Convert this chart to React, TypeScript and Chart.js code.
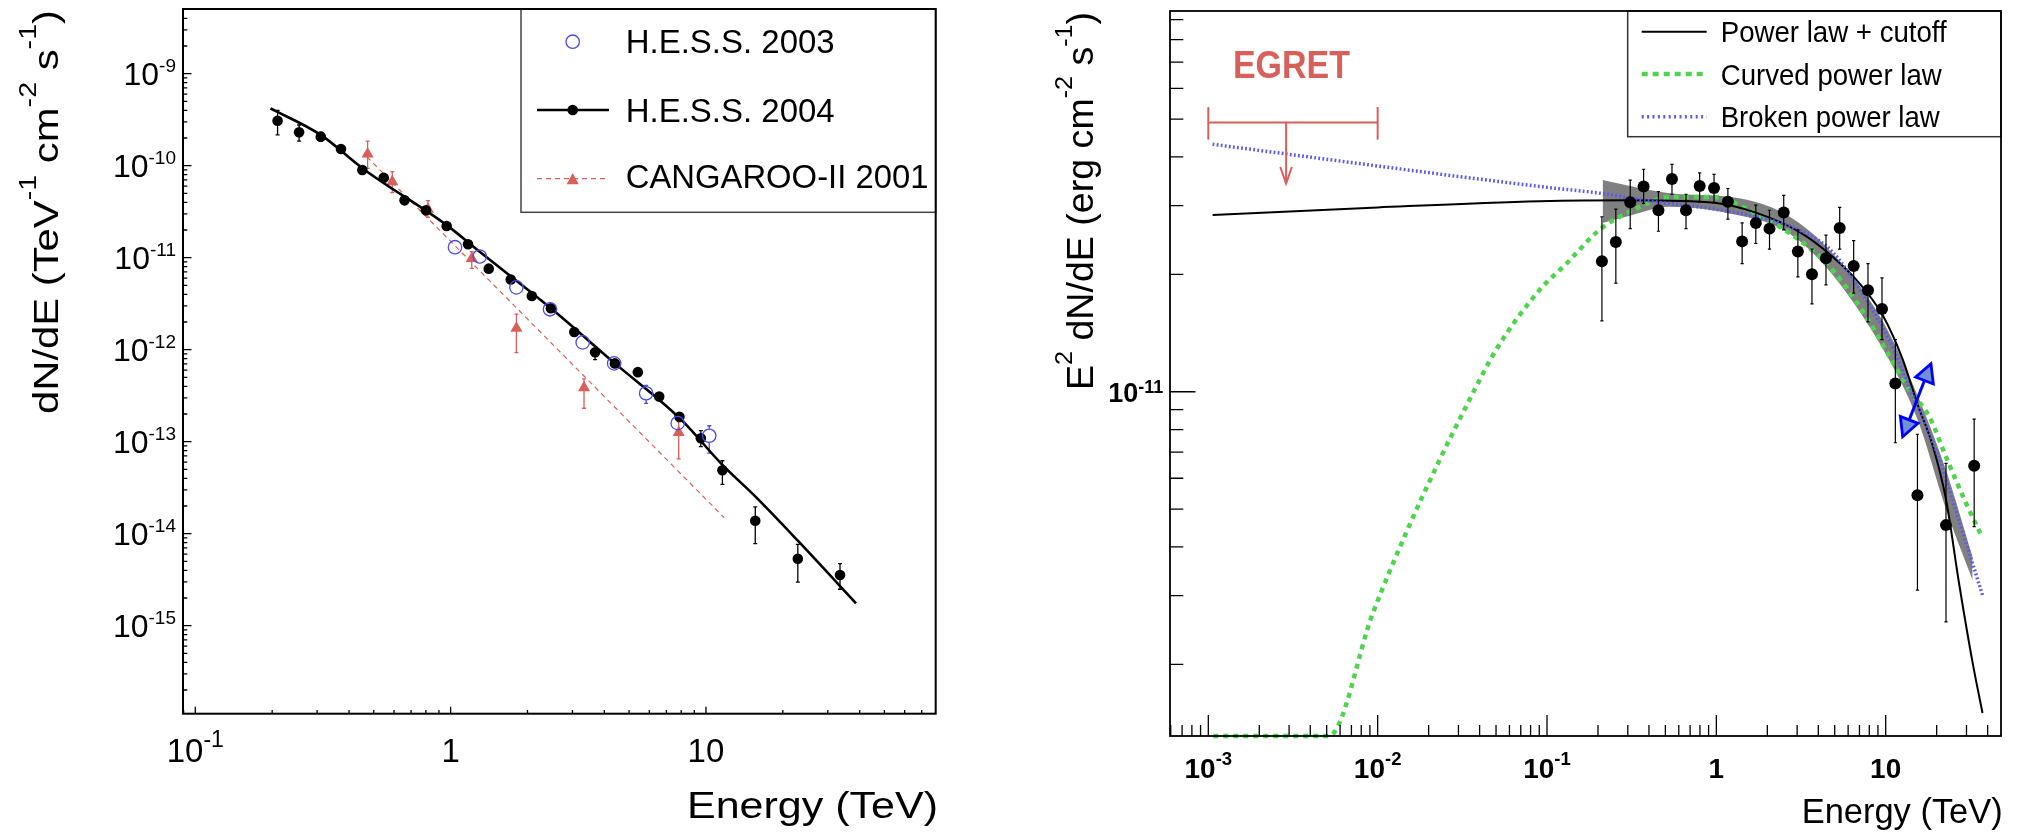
import React, { useEffect, useRef } from "react";
import { Chart, registerables } from "chart.js";
Chart.register(...registerables);

const FONT = '"Liberation Sans", Arial, Helvetica, sans-serif';
const RED = "#d95f5b";
const BLUE = "#4a4ae6";
const GREEN = "#50d450";
const DOTBLUE = "#5a5af0";

// ---------------- Left panel data ----------------
const hess04E = [0.21, 0.255, 0.31, 0.372, 0.451, 0.547, 0.66, 0.8, 0.965, 1.17, 1.41, 1.72, 2.08, 2.47, 3.05, 3.68, 4.4, 5.41, 6.56, 7.87, 9.55, 11.6, 15.6, 22.9, 33.5];
const hess04F = [3.08e-10, 2.31e-10, 2.07e-10, 1.52e-10, 8.98e-11, 7.41e-11, 4.2e-11, 3.27e-11, 2.21e-11, 1.4e-11, 7.6e-12, 5.8e-12, 3.84e-12, 2.82e-12, 1.56e-12, 9.37e-13, 7.1e-13, 5.7e-13, 3.09e-13, 1.87e-13, 1.09e-13, 4.89e-14, 1.38e-14, 5.35e-15, 3.56e-15];
const hess04Lo = [2.16e-10, 1.85e-10, 1.85e-10, null, null, null, null, null, null, null, null, null, null, null, null, 7.8e-13, null, null, null, 1.65e-13, 8.83e-14, 3.44e-14, 7.78e-15, 2.98e-15, 2.49e-15];
const hess04Hi = [4.0e-10, 2.77e-10, 2.3e-10, null, null, null, null, null, null, null, null, null, null, null, null, 1.0e-12, null, null, null, 2.05e-13, 1.32e-13, 6.21e-14, 1.96e-14, 7.67e-15, 4.72e-15];

const hess03E = [1.04, 1.3, 1.81, 2.45, 3.29, 4.37, 5.83, 7.75, 10.3];
const hess03F = [1.3e-11, 1.03e-11, 4.76e-12, 2.75e-12, 1.2e-12, 7.1e-13, 3.36e-13, 1.59e-13, 1.16e-13];
const hess03Lo = [null, null, null, null, null, null, 2.61e-13, 1.29e-13, 7.5e-14];
const hess03Hi = [null, null, null, null, null, null, 4.1e-13, 1.95e-13, 1.49e-13];

const canE = [0.473, 0.591, 0.815, 1.21, 1.81, 3.33, 7.82];
const canF = [1.34e-10, 6.7e-11, 3.36e-11, 9.8e-12, 1.71e-12, 3.87e-13, 1.26e-13];
const canLo = [9.37e-11, 5.09e-11, 2.75e-11, 7.67e-12, 9.27e-13, 2.31e-13, 6.49e-14];
const canHi = [1.85e-10, 8.61e-11, 4.17e-11, 1.16e-11, 2.43e-12, 4.81e-13, 1.69e-13];

const fitE = [0.197, 0.31, 0.451, 0.965, 1.3, 2.47, 4.4, 7.91, 11.6, 15.7, 22.9, 38.7];
const fitF = [4.2e-10, 2.16e-10, 9.4e-11, 2.26e-11, 1.16e-11, 2.82e-12, 7.1e-13, 1.79e-13, 5.6e-14, 2.5e-14, 8.4e-15, 1.75e-15];

const canFitE = [0.47, 11.8];
const canFitF = [1.25e-10, 1.49e-14];

const leftXTickExps = [-1, 0, 1];
const leftYTickExps = [-9, -10, -11, -12, -13, -14, -15];
const leftLegend = ["H.E.S.S. 2003", "H.E.S.S. 2004", "CANGAROO-II 2001"];

// ---------------- Right panel data ----------------
const rE = [0.211, 0.255, 0.31, 0.372, 0.455, 0.547, 0.662, 0.797, 0.969, 1.17, 1.42, 1.71, 2.06, 2.5, 3.03, 3.67, 4.44, 5.35, 6.47, 7.86, 9.51, 11.4, 15.4, 22.7, 33.3];
const rF = [2.16e-11, 2.42e-11, 3.06e-11, 3.36e-11, 2.92e-11, 3.51e-11, 2.92e-11, 3.37e-11, 3.33e-11, 3.07e-11, 2.43e-11, 2.71e-11, 2.62e-11, 2.88e-11, 2.29e-11, 2.0e-11, 2.2e-11, 2.63e-11, 2.1e-11, 1.82e-11, 1.63e-11, 1.05e-11, 5.43e-12, 4.55e-12, 6.46e-12];
const rLo = [1.52e-11, 1.9e-11, 2.62e-11, 3.04e-11, 2.58e-11, 3.21e-11, 2.62e-11, 3.07e-11, 3.06e-11, 2.77e-11, 2.13e-11, 2.4e-11, 2.32e-11, 2.6e-11, 1.97e-11, 1.68e-11, 1.88e-11, 2.32e-11, 1.79e-11, 1.51e-11, 1.36e-11, 7.4e-12, 3.1e-12, 2.57e-12, 4.51e-12];
const rHi = [2.81e-11, 2.94e-11, 3.49e-11, 3.72e-11, 3.26e-11, 3.83e-11, 3.21e-11, 3.64e-11, 3.61e-11, 3.32e-11, 2.71e-11, 3.01e-11, 2.92e-11, 3.19e-11, 2.6e-11, 2.32e-11, 2.52e-11, 2.97e-11, 2.44e-11, 2.13e-11, 1.96e-11, 1.36e-11, 7.78e-12, 6.55e-12, 8.51e-12];

const plcE = [1.06e-3, 0.01, 0.09, 0.31, 1.0, 1.71, 3.09, 4.86, 6.98, 9.6, 12.6, 15.4, 18.9, 22.7, 27.2, 32.6, 37.3];
const plcF = [2.84e-11, 2.97e-11, 3.08e-11, 3.1e-11, 3.05e-11, 2.88e-11, 2.57e-11, 2.22e-11, 1.9e-11, 1.57e-11, 1.21e-11, 9.3e-12, 7.3e-12, 5.3e-12, 3.2e-12, 2.02e-12, 1.5e-12];

const cplE = [1.07e-3, 5.15e-3, 9.35e-3, 1.47e-2, 2.32e-2, 3.48e-2, 0.05, 0.09, 0.13, 0.204, 0.32, 0.55, 0.95, 1.71, 3.09, 4.86, 7.66, 10.0, 13.8, 18.1, 22.7, 29.8, 36.5];
const cplF = [1.31e-12, 1.31e-12, 2.7e-12, 4.34e-12, 6.68e-12, 9.52e-12, 1.28e-11, 1.82e-11, 2.13e-11, 2.6e-11, 2.92e-11, 3.16e-11, 3.16e-11, 2.86e-11, 2.45e-11, 2.05e-11, 1.56e-11, 1.28e-11, 1.01e-11, 8.63e-12, 6.81e-12, 5.18e-12, 4.3e-12];

const bplE = [1.06e-3, 0.09, 0.204, 0.46, 0.79, 1.71, 3.09, 4.86, 7.66, 10.5, 14.0, 19.8, 29.8, 37.3];
const bplF = [4.31e-11, 3.36e-11, 3.23e-11, 3.06e-11, 2.98e-11, 2.81e-11, 2.6e-11, 2.28e-11, 1.72e-11, 1.36e-11, 1.01e-11, 7.08e-12, 4.1e-12, 3.01e-12];

const bandE = [0.213, 0.3, 0.53, 1.28, 2.5, 4.44, 9.5, 15.4, 22.7, 32.6];
const bandLo = [2.71e-11, 2.82e-11, 2.98e-11, 2.85e-11, 2.6e-11, 2.09e-11, 1.3e-11, 8.5e-12, 5.0e-12, 3.29e-12];
const bandHi = [3.49e-11, 3.38e-11, 3.23e-11, 3.15e-11, 2.87e-11, 2.36e-11, 1.53e-11, 9.8e-12, 6.3e-12, 3.77e-12];

const egretE = [1e-3, 1e-2];
const egretF = 4.9e-11;
const egretArrowE = 2.88e-3;
const egretArrowTo = 3.42e-11;

const slopeArrowE = [12.6, 18.5];
const slopeArrowF = [7.67e-12, 1.18e-11];

const rightXTickExps = [-3, -2, -1, 0, 1];
const rightYTickExps = [-11];
const rightLegend = ["Power law + cutoff", "Curved power law", "Broken power law"];

// ---------------- helpers ----------------
type Seg = { t: string; sup?: boolean };
type RichOpt = { size: number; supSize: number; raise: number; bold?: boolean; align?: "left" | "center" | "right"; width?: number; color?: string };

function drawRich(ctx: CanvasRenderingContext2D, segs: Seg[], x: number, y: number, o: RichOpt) {
  const b = o.bold ? "bold " : "";
  const fontOf = (s: Seg) => `${b}${s.sup ? o.supSize : o.size}px ${FONT}`;
  const widths = segs.map((s) => {
    ctx.font = fontOf(s);
    return ctx.measureText(s.t).width;
  });
  const total = widths.reduce((a, c) => a + c, 0);
  const sx = o.width ? o.width / total : 1;
  ctx.save();
  ctx.translate(x, y);
  ctx.scale(sx, 1);
  let cx = o.align === "right" ? -total : o.align === "center" ? -total / 2 : 0;
  ctx.fillStyle = o.color || "#000";
  ctx.textBaseline = "alphabetic";
  ctx.textAlign = "left";
  segs.forEach((s, i) => {
    ctx.font = fontOf(s);
    ctx.fillText(s.t, cx, s.sup ? -o.raise : 0);
    cx += widths[i];
  });
  ctx.restore();
}

function powSegs(e: number): Seg[] {
  if (e === 0) return [{ t: "1" }];
  if (e === 1) return [{ t: "10" }];
  return [{ t: "10" }, { t: String(e), sup: true }];
}

function logTicks(ctx: CanvasRenderingContext2D, chart: any, axis: "x" | "y", major: number, minor: number, lw: number) {
  const a = chart.chartArea;
  const sc = chart.scales[axis];
  const lo = Math.floor(Math.log10(sc.min));
  const hi = Math.ceil(Math.log10(sc.max));
  ctx.save();
  ctx.strokeStyle = "#000";
  ctx.lineWidth = lw;
  ctx.beginPath();
  for (let d = lo; d <= hi; d++) {
    for (let m = 1; m <= 9; m++) {
      const v = m * Math.pow(10, d);
      if (v < sc.min || v > sc.max) continue;
      const p = sc.getPixelForValue(v);
      const len = m === 1 ? major : minor;
      if (axis === "x") {
        ctx.moveTo(p, a.bottom);
        ctx.lineTo(p, a.bottom - len);
      } else {
        ctx.moveTo(a.left, p);
        ctx.lineTo(a.left + len, p);
      }
    }
  }
  ctx.stroke();
  ctx.restore();
}

function errBars(ctx: CanvasRenderingContext2D, chart: any, E: number[], F: number[], lo: (number | null)[], hi: (number | null)[], color: string, cap: number, lw: number, gap: number) {
  const xs = chart.scales.x;
  const ys = chart.scales.y;
  ctx.save();
  ctx.strokeStyle = color;
  ctx.lineWidth = lw;
  ctx.beginPath();
  E.forEach((e, i) => {
    const px = xs.getPixelForValue(e);
    const pc = ys.getPixelForValue(F[i]);
    const l = lo[i];
    const h = hi[i];
    if (l != null) {
      const p = ys.getPixelForValue(l);
      if (p > pc + gap) {
        ctx.moveTo(px, pc + gap);
        ctx.lineTo(px, p);
      }
      ctx.moveTo(px - cap, p);
      ctx.lineTo(px + cap, p);
    }
    if (h != null) {
      const p = ys.getPixelForValue(h);
      if (p < pc - gap) {
        ctx.moveTo(px, pc - gap);
        ctx.lineTo(px, p);
      }
      ctx.moveTo(px - cap, p);
      ctx.lineTo(px + cap, p);
    }
  });
  ctx.stroke();
  ctx.restore();
}

const pts = (xs: number[], ys: number[]) => xs.map((x, i) => ({ x, y: ys[i] }));

function line(ctx: CanvasRenderingContext2D, x1: number, y1: number, x2: number, y2: number, color: string, lw: number, dash: number[] = []) {
  ctx.save();
  ctx.strokeStyle = color;
  ctx.lineWidth = lw;
  ctx.setLineDash(dash);
  ctx.beginPath();
  ctx.moveTo(x1, y1);
  ctx.lineTo(x2, y2);
  ctx.stroke();
  ctx.restore();
}

// ---------------- Left chart ----------------
const leftDecor = {
  id: "leftDecor",
  beforeDatasetsDraw(chart: any) {
    const ctx = chart.ctx;
    errBars(ctx, chart, canE, canF, canLo, canHi, RED, 2, 1.3, 0);
    errBars(ctx, chart, hess04E, hess04F, hess04Lo, hess04Hi, "#000", 2, 1.3, 0);
    errBars(ctx, chart, hess03E, hess03F, hess03Lo, hess03Hi, BLUE, 2, 1.3, 6.7);
  },
  afterDatasetsDraw(chart: any) {
    const ctx: CanvasRenderingContext2D = chart.ctx;
    const a = chart.chartArea;
    // legend
    ctx.save();
    ctx.fillStyle = "#fff";
    ctx.fillRect(521, a.top, a.right - 521, 212.3 - a.top);
    ctx.strokeStyle = "#444";
    ctx.lineWidth = 1.5;
    ctx.strokeRect(521, a.top, a.right - 521, 212.3 - a.top);
    ctx.restore();
    ctx.save();
    ctx.strokeStyle = BLUE;
    ctx.lineWidth = 1.3;
    ctx.beginPath();
    ctx.arc(572.7, 41.7, 6.7, 0, Math.PI * 2);
    ctx.stroke();
    ctx.restore();
    line(ctx, 537, 110, 609, 110, "#000", 2.6);
    ctx.save();
    ctx.fillStyle = "#000";
    ctx.beginPath();
    ctx.arc(572.7, 110, 5.3, 0, Math.PI * 2);
    ctx.fill();
    ctx.restore();
    line(ctx, 537, 178.7, 609, 178.7, RED, 1.2, [5, 4]);
    ctx.save();
    ctx.fillStyle = RED;
    ctx.beginPath();
    ctx.moveTo(572.7, 173);
    ctx.lineTo(578.7, 184.3);
    ctx.lineTo(566.7, 184.3);
    ctx.closePath();
    ctx.fill();
    ctx.restore();
    const lgW = [209, 209, 302.7];
    const lgY = [53.3, 121.7, 188.3];
    leftLegend.forEach((t, i) => drawRich(ctx, [{ t }], 625.7, lgY[i], { size: 34, supSize: 20, raise: 0, width: lgW[i] }));

    // frame
    ctx.save();
    ctx.strokeStyle = "#000";
    ctx.lineWidth = 2;
    ctx.strokeRect(a.left, a.top, a.right - a.left, a.bottom - a.top);
    ctx.restore();
    logTicks(ctx, chart, "x", 7, 3.7, 1.3);
    logTicks(ctx, chart, "y", 8.5, 4.3, 1.3);

    const xs = chart.scales.x;
    const ys = chart.scales.y;
    leftXTickExps.forEach((e) => {
      drawRich(ctx, powSegs(e), xs.getPixelForValue(Math.pow(10, e)), 761.7, { size: 33, supSize: 23, raise: 15, align: "center" });
    });
    leftYTickExps.forEach((e) => {
      drawRich(ctx, powSegs(e), 176, ys.getPixelForValue(Math.pow(10, e)) + 11.7, { size: 32, supSize: 19, raise: 13.3, align: "right" });
    });

    drawRich(ctx, [{ t: "Energy (TeV)" }], 938, 818.3, { size: 37, supSize: 22, raise: 0, align: "right", width: 251 });
    ctx.save();
    ctx.translate(58, 10);
    ctx.rotate(-Math.PI / 2);
    drawRich(
      ctx,
      [{ t: "dN/dE (TeV" }, { t: "-1", sup: true }, { t: " cm" }, { t: "-2", sup: true }, { t: " s" }, { t: "-1", sup: true }, { t: ")" }],
      0,
      0,
      { size: 35, supSize: 24, raise: 22, align: "right", width: 404 }
    );
    ctx.restore();
  },
};

function leftConfig(): any {
  return {
    type: "scatter",
    data: {
      datasets: [
        { data: pts(canFitE, canFitF), showLine: true, borderColor: RED, borderWidth: 1.2, borderDash: [5, 4], pointRadius: 0, order: 5 },
        { data: pts(canE, canF), pointStyle: "triangle", pointRadius: 7, backgroundColor: RED, borderColor: RED, borderWidth: 0, order: 4 },
        { data: pts(fitE, fitF), showLine: true, borderColor: "#000", borderWidth: 2.6, pointRadius: 0, cubicInterpolationMode: "monotone", order: 3 },
        { data: pts(hess04E, hess04F), pointStyle: "circle", pointRadius: 5.3, backgroundColor: "#000", borderColor: "#000", borderWidth: 0, order: 2 },
        { data: pts(hess03E, hess03F), pointStyle: "circle", pointRadius: 6.7, backgroundColor: "rgba(0,0,0,0)", borderColor: BLUE, borderWidth: 1.3, order: 1 },
      ],
    },
    options: {
      responsive: false,
      animation: false,
      devicePixelRatio: 1,
      events: [],
      layout: { padding: { left: 183, top: 9, right: 64.3, bottom: 120.3 } },
      plugins: { legend: { display: false }, tooltip: { enabled: false } },
      scales: {
        x: { type: "logarithmic", display: false, min: 0.0895, max: 79.4 },
        y: { type: "logarithmic", display: false, min: 1.105e-16, max: 5.05e-9 },
      },
    },
    plugins: [leftDecor],
  };
}

// ---------------- Right chart ----------------
function arrowHead(ctx: CanvasRenderingContext2D, tx: number, ty: number, fx: number, fy: number, len: number, hw: number) {
  const dx = tx - fx;
  const dy = ty - fy;
  const d = Math.hypot(dx, dy);
  const ux = dx / d;
  const uy = dy / d;
  const bx = tx - ux * len;
  const by = ty - uy * len;
  ctx.beginPath();
  ctx.moveTo(tx, ty);
  ctx.lineTo(bx - uy * hw, by + ux * hw);
  ctx.lineTo(bx + uy * hw, by - ux * hw);
  ctx.closePath();
  ctx.fill();
  ctx.stroke();
}

const rightDecor = {
  id: "rightDecor",
  afterDatasetsDraw(chart: any) {
    const ctx: CanvasRenderingContext2D = chart.ctx;
    const a = chart.chartArea;
    const xs = chart.scales.x;
    const ys = chart.scales.y;
    errBars(ctx, chart, rE, rF, rLo, rHi, "#000", 1.6, 1.2, 0);

    // EGRET upper limit
    const ex1 = xs.getPixelForValue(egretE[0]);
    const ex2 = xs.getPixelForValue(egretE[1]);
    const ey = ys.getPixelForValue(egretF);
    line(ctx, ex1, ey, ex2, ey, RED, 2);
    line(ctx, ex1, ey - 15.5, ex1, ey + 17, RED, 2);
    line(ctx, ex2, ey - 15.5, ex2, ey + 17, RED, 2);
    const ax = xs.getPixelForValue(egretArrowE);
    const ay = ys.getPixelForValue(egretArrowTo);
    line(ctx, ax, ey, ax, ay, RED, 2);
    ctx.save();
    ctx.strokeStyle = RED;
    ctx.lineWidth = 2;
    ctx.beginPath();
    ctx.moveTo(ax - 5.8, ay - 16.5);
    ctx.lineTo(ax, ay);
    ctx.lineTo(ax + 5.8, ay - 16.5);
    ctx.stroke();
    ctx.restore();
    drawRich(ctx, [{ t: "EGRET" }], 291.4, 78.3, { size: 39, supSize: 20, raise: 0, bold: true, align: "center", width: 117, color: RED });

    // slope arrow
    const p1x = xs.getPixelForValue(slopeArrowE[0]);
    const p1y = ys.getPixelForValue(slopeArrowF[0]);
    const p2x = xs.getPixelForValue(slopeArrowE[1]);
    const p2y = ys.getPixelForValue(slopeArrowF[1]);
    line(ctx, p1x, p1y, p2x, p2y, "#0000ff", 3);
    ctx.save();
    ctx.fillStyle = "#7290d2";
    ctx.strokeStyle = "#0000ff";
    ctx.lineWidth = 2.8;
    ctx.lineJoin = "miter";
    arrowHead(ctx, p2x, p2y, p1x, p1y, 18, 9.5);
    arrowHead(ctx, p1x, p1y, p2x, p2y, 18, 9.5);
    ctx.restore();

    // legend
    const lx = 627.7;
    ctx.save();
    ctx.fillStyle = "#fff";
    ctx.fillRect(lx, a.top, a.right - lx, 136.7 - a.top);
    ctx.strokeStyle = "#333";
    ctx.lineWidth = 1.5;
    ctx.strokeRect(lx, a.top, a.right - lx, 136.7 - a.top);
    ctx.restore();
    line(ctx, 641.7, 31.7, 706.7, 31.7, "#000", 2);
    line(ctx, 641.7, 74, 706.7, 74, GREEN, 4.5, [6, 5]);
    line(ctx, 641.7, 116.7, 706.7, 116.7, DOTBLUE, 3.5, [2, 3.4]);
    const lgW = [226, 221, 219];
    const lgY = [41.7, 85, 126.7];
    rightLegend.forEach((t, i) => drawRich(ctx, [{ t }], 720.7, lgY[i], { size: 29, supSize: 18, raise: 0, width: lgW[i] }));

    // frame & ticks
    ctx.save();
    ctx.strokeStyle = "#000";
    ctx.lineWidth = 1.8;
    ctx.strokeRect(a.left, a.top, a.right - a.left, a.bottom - a.top);
    ctx.restore();
    logTicks(ctx, chart, "x", 21, 11, 1.3);
    logTicks(ctx, chart, "y", 25.5, 13.3, 1.3);

    rightXTickExps.forEach((e) => {
      drawRich(ctx, powSegs(e), xs.getPixelForValue(Math.pow(10, e)), 778, { size: 28, supSize: 18.5, raise: 13, bold: true, align: "center" });
    });
    rightYTickExps.forEach((e) => {
      drawRich(ctx, powSegs(e), 163.3, ys.getPixelForValue(Math.pow(10, e)) + 10, { size: 27, supSize: 18, raise: 8.5, bold: true, align: "right" });
    });

    drawRich(ctx, [{ t: "Energy (TeV)" }], 1002.7, 823.3, { size: 35, supSize: 20, raise: 0, align: "right", width: 201 });
    ctx.save();
    ctx.translate(93, 12);
    ctx.rotate(-Math.PI / 2);
    drawRich(
      ctx,
      [{ t: "E" }, { t: "2", sup: true }, { t: " dN/dE (erg cm" }, { t: "-2", sup: true }, { t: " s" }, { t: "-1", sup: true }, { t: ")" }],
      0,
      0,
      { size: 36, supSize: 24, raise: 21, align: "right", width: 378 }
    );
    ctx.restore();
  },
};

function rightConfig(): any {
  const clear = "rgba(0,0,0,0)";
  return {
    type: "scatter",
    data: {
      datasets: [
        { data: pts(bandE, bandLo), showLine: true, borderColor: clear, borderWidth: 1, pointRadius: 0, cubicInterpolationMode: "monotone", order: 10 },
        { data: pts(bandE, bandHi), showLine: true, borderColor: clear, borderWidth: 1, pointRadius: 0, cubicInterpolationMode: "monotone", fill: 0, backgroundColor: "#808080", order: 9 },
        { data: pts(cplE, cplF), showLine: true, borderColor: GREEN, borderWidth: 4.5, borderDash: [5, 5], pointRadius: 0, cubicInterpolationMode: "monotone", clip: { left: 0, top: 0, right: 0, bottom: 4 }, order: 6 },
        { data: pts(plcE, plcF), showLine: true, borderColor: "#000", borderWidth: 2, pointRadius: 0, cubicInterpolationMode: "monotone", order: 5 },
        { data: pts(bplE, bplF), showLine: true, borderColor: DOTBLUE, borderWidth: 3.5, borderDash: [1.8, 2.3], pointRadius: 0, cubicInterpolationMode: "monotone", order: 4 },
        { data: pts(rE, rF), pointStyle: "circle", pointRadius: 6, backgroundColor: "#000", borderColor: "#000", borderWidth: 0, order: 1 },
      ],
    },
    options: {
      responsive: false,
      animation: false,
      devicePixelRatio: 1,
      events: [],
      layout: { padding: { left: 170, top: 11, right: 26, bottom: 98 } },
      plugins: { legend: { display: false }, tooltip: { enabled: false }, filler: { propagate: false } },
      scales: {
        x: { type: "logarithmic", display: false, min: 5.94e-4, max: 47.96 },
        y: { type: "logarithmic", display: false, min: 1.31e-12, max: 9.47e-11 },
      },
    },
    plugins: [rightDecor],
  };
}

function ChartCanvas(props: { make: () => any; left: number; width: number; height: number }) {
  const ref = useRef<HTMLCanvasElement>(null);
  useEffect(() => {
    const c = new Chart(ref.current as HTMLCanvasElement, props.make());
    return () => c.destroy();
  }, []);
  return (
    <canvas
      ref={ref}
      width={props.width}
      height={props.height}
      style={{ position: "absolute", left: props.left, top: 0, width: props.width, height: props.height }}
    />
  );
}

export default function App() {
  return (
    <div style={{ position: "fixed", left: 0, top: 0, width: 2027, height: 834, background: "#fff", overflow: "hidden" }}>
      <ChartCanvas make={leftConfig} left={0} width={1000} height={834} />
      <ChartCanvas make={rightConfig} left={1000} width={1027} height={834} />
    </div>
  );
}
